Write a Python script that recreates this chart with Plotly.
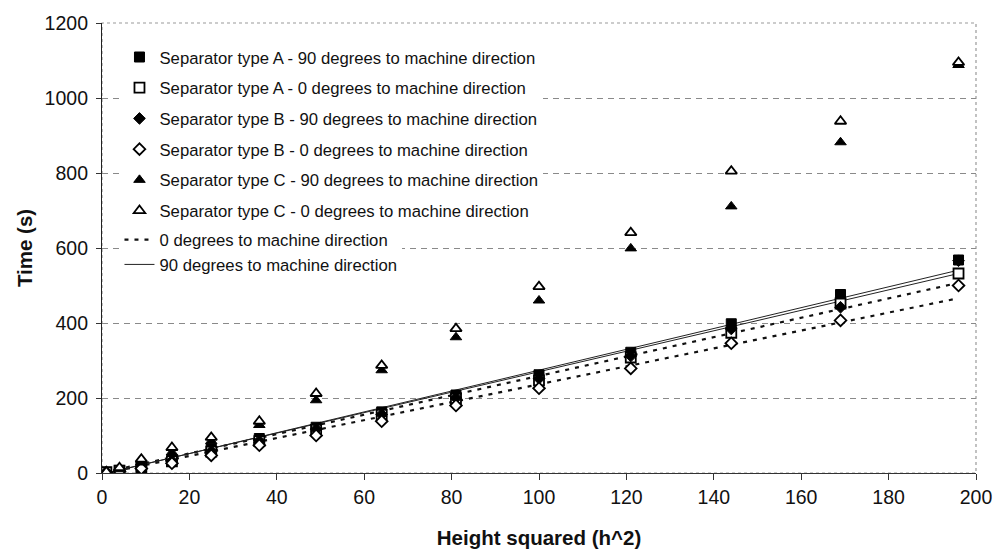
import plotly.graph_objects as go

# ---- data ----
h_squared = [1, 4, 9, 16, 25, 36, 49, 64, 81, 100, 121, 144, 169, 196]
sep_A_90 = [2, 7, 18, 35, 64, 92, 122, 163, 208, 262, 322, 398, 476, 568]
sep_A_0 = [2, 6, 16, 31, 57, 85, 115, 155, 198, 247, 308, 374, 452, 532]
sep_B_90 = [2, 6, 16, 32, 58, 86, 117, 156, 200, 252, 312, 384, 442, 566]
sep_B_0 = [1, 4, 12, 26, 47, 74, 100, 138, 180, 226, 279, 346, 407, 500]
sep_C_90 = [3, 10, 28, 55, 85, 128, 194, 274, 362, 460, 599, 711, 882, 1088]
sep_C_0 = [3, 14, 37, 68, 95, 138, 212, 287, 385, 497, 641, 805, 938, 1095]

# trend lines (start/end values)
trend_x = [1, 196]
trend_A90 = [-1, 541]
trend_B90 = [0, 532]
trend_A0 = [3, 507]
trend_B0 = [0, 466]

x_ticks = [0, 20, 40, 60, 80, 100, 120, 140, 160, 180, 200]
y_ticks = [0, 200, 400, 600, 800, 1000, 1200]

names = [
    "Separator type A - 90 degrees to machine direction",
    "Separator type A - 0 degrees to machine direction",
    "Separator type B - 90 degrees to machine direction",
    "Separator type B - 0 degrees to machine direction",
    "Separator type C - 90 degrees to machine direction",
    "Separator type C - 0 degrees to machine direction",
]
line_names = ["0 degrees to machine direction", "90 degrees to machine direction"]

fig = go.Figure()

# trend lines first (under markers), listed in a second legend
solid = dict(color="#222222", width=1)
dashed = dict(color="#111111", width=2.2, dash="4px,6px")
fig.add_trace(go.Scatter(x=trend_x, y=trend_A0, mode="lines", line=dashed,
                         name=line_names[0], legend="legend2", legendgroup="l0",
                         showlegend=True))
fig.add_trace(go.Scatter(x=trend_x, y=trend_B0, mode="lines", line=dashed,
                         name=line_names[0], legend="legend2", legendgroup="l0",
                         showlegend=False))
fig.add_trace(go.Scatter(x=trend_x, y=trend_A90, mode="lines", line=solid,
                         name=line_names[1], legend="legend2", legendgroup="l90",
                         showlegend=False))
fig.add_trace(go.Scatter(x=trend_x, y=trend_B90, mode="lines", line=solid,
                         name=line_names[1], legend="legend2", legendgroup="l90",
                         showlegend=True))

series = [sep_A_90, sep_A_0, sep_B_90, sep_B_0, sep_C_90, sep_C_0]
symbols = ["square", "square", "diamond", "diamond", "triangle-up", "triangle-up"]
filled = [True, False, True, False, True, False]
sizes = [10, 10, 9, 9, 10, 10]
for i, ys in enumerate(series):
    fig.add_trace(go.Scatter(
        x=h_squared, y=ys, mode="markers", name=names[i],
        legendgroup="g%d" % i, legendrank=i + 1,
        marker=dict(symbol=symbols[i], size=sizes[i],
                    color="black" if filled[i] else "white",
                    line=dict(color="black", width=1 if filled[i] else 1.8)),
    ))

fig.update_layout(
    width=994, height=549,
    margin=dict(l=102, r=18, t=23, b=76),
    paper_bgcolor="white", plot_bgcolor="white",
    font=dict(family="Liberation Sans, Arial, sans-serif", color="#111111"),
    showlegend=True,
    legend=dict(x=0.02, y=0.963, xanchor="left", yanchor="top",
                bgcolor="white", borderwidth=0,
                font=dict(size=16.7, color="#111111"),
                traceorder="grouped", tracegroupgap=6, itemwidth=30),
    legend2=dict(x=0.02, y=0.557, xanchor="left", yanchor="top",
                 bgcolor="white", borderwidth=0,
                 font=dict(size=16.7, color="#111111"),
                 traceorder="normal", tracegroupgap=0, itemwidth=30),
    shapes=[dict(type="rect", xref="paper", yref="paper", x0=0, x1=1, y0=0, y1=1,
                 line=dict(color="#999999", width=1.2, dash="dot"), layer="below")],
)
fig.update_xaxes(range=[0, 200], tickvals=x_ticks, ticks="outside", ticklen=6,
                 tickcolor="#333333", showline=True, linecolor="#333333", linewidth=1.2,
                 showgrid=False, zeroline=False, automargin=False,
                 tickfont=dict(size=19.5),
                 title=dict(text="<b>Height squared (h^2)</b>", font=dict(size=20.5),
                            standoff=24))
fig.update_yaxes(range=[0, 1200], tickvals=y_ticks, ticks="outside", ticklen=5,
                 tickcolor="#333333", showline=True, linecolor="#222222", linewidth=1.2,
                 showgrid=True, gridcolor="#8a8a8a", gridwidth=1, griddash="6px,5px",
                 zeroline=False, automargin=False, ticklabelstandoff=4,
                 tickfont=dict(size=19.5),
                 title=dict(text="<b>Time (s)</b>", font=dict(size=20.5), standoff=6))

fig.write_html("out.html")
